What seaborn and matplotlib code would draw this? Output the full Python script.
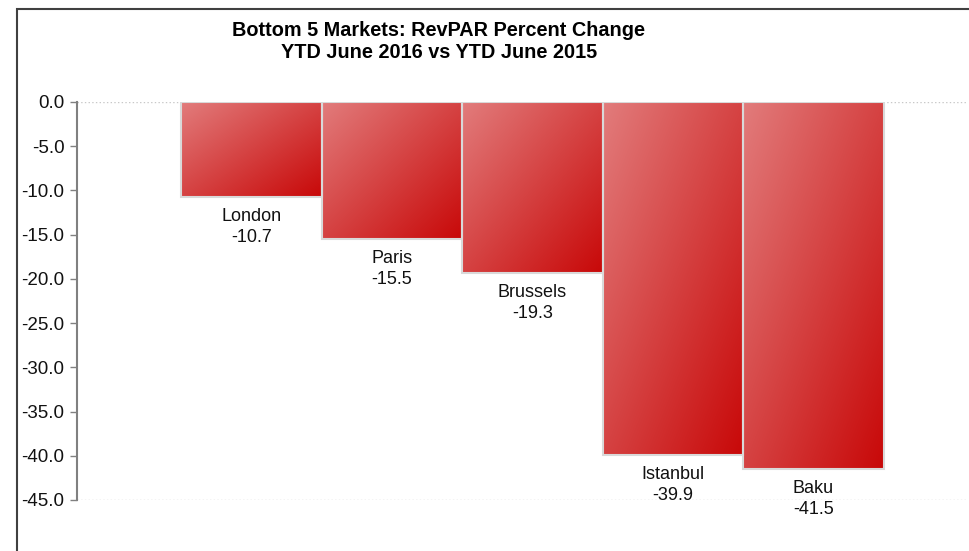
"""
Bottom 5 markets: RevPAR percent change, YTD June 2016 vs YTD June 2015
"""

import numpy as np
import pandas as pd
import matplotlib
matplotlib.use('Agg')
import matplotlib.pyplot as plt
from matplotlib.patches import Rectangle
from matplotlib.colors import to_rgb
import seaborn as sns

# Data
markets = ['London', 'Paris', 'Brussels', 'Istanbul', 'Baku']
revpar_change = [-10.7, -15.5, -19.3, -39.9, -41.5]
y_ticks = [0, -5, -10, -15, -20, -25, -30, -35, -40, -45]

title_lines = ['Bottom 5 Markets: RevPAR Percent Change',
               'YTD June 2016 vs YTD June 2015']

LIGHT = np.array(to_rgb('#e27c7c'))
DARK = np.array(to_rgb('#c80808'))
EDGE = '#d9d9d9'

sns.set_style('white')
plt.rcParams['font.family'] = ['Liberation Sans', 'DejaVu Sans']

df = pd.DataFrame({'market': markets, 'change': revpar_change})

fig = plt.figure(figsize=(9.69, 5.51), dpi=100)
ax = fig.add_axes([77 / 969, 1 - 500 / 551, (968 - 77) / 969, (500 - 102) / 551])

sns.barplot(data=df, x='market', y='change', width=1.0, color='#d04040',
            ax=ax, zorder=3)

# diagonal gradient, light top-left to dark bottom-right, clipped to each bar
n = 200
rows, cols = np.mgrid[0:n, 0:n] / (n - 1)
t = (rows + cols) / 2
grad = LIGHT[None, None, :] * (1 - t[..., None]) + DARK[None, None, :] * t[..., None]

for patch in ax.patches:
    x0, y0 = patch.get_x(), patch.get_y()
    w, h = patch.get_width(), patch.get_height()
    ymin, ymax = min(y0, y0 + h), max(y0, y0 + h)
    patch.set_facecolor('none')
    patch.set_edgecolor(EDGE)
    patch.set_linewidth(1.5)
    im = ax.imshow(grad, extent=(x0, x0 + w, ymin, ymax), origin='upper',
                   aspect='auto', zorder=2)
    im.set_clip_path(patch)

# name + value under each bar
for i, (name, val) in enumerate(zip(markets, revpar_change)):
    ax.annotate(f'{name}\n{val:.1f}', xy=(i, val), xytext=(0, -8),
                textcoords='offset points', ha='center', va='top',
                fontsize=13, linespacing=1.3, color='#111111',
                annotation_clip=False)

ax.set_xlim(-1.24, 5.1)
ax.set_ylim(-45, 0)
ax.set_yticks(y_ticks)
ax.set_yticklabels([f'{v:.1f}' for v in y_ticks])
ax.set_xticks([])
ax.set_xlabel('')
ax.set_ylabel('')

for y in (0, -45):
    ax.axhline(y, color='#c8c8c8', linestyle=':', linewidth=1, zorder=1)

for side in ('top', 'right', 'bottom'):
    ax.spines[side].set_visible(False)
ax.spines['left'].set_color('#808080')
ax.spines['left'].set_linewidth(1.5)
ax.tick_params(axis='y', left=True, length=5, width=1, color='#808080',
               labelsize=13.5, labelcolor='#111111', pad=4)

fig.text(439 / 969, 1 - 41.5 / 551, '\n'.join(title_lines), ha='center',
         va='center', fontsize=14.3, fontweight='bold', linespacing=1.25,
         color='black')

# outer chart frame (only left and top edges fall inside the image)
fig.patches.append(Rectangle((17 / 969, -0.1), 1.2, 1.1 - 9 / 551,
                             transform=fig.transFigure, fill=False,
                             edgecolor='#404040', linewidth=1.5))

plt.savefig('out.png', dpi=100)
plt.close()
